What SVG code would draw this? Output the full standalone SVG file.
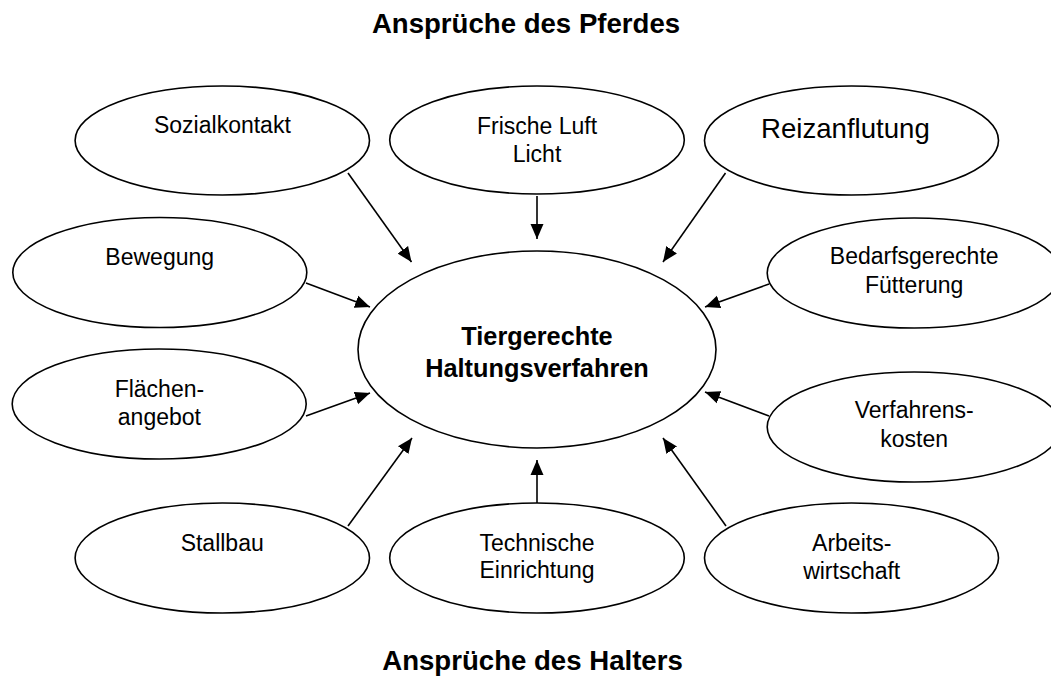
<svg xmlns="http://www.w3.org/2000/svg" width="1051" height="676" viewBox="0 0 1051 676">
<style>
.n ellipse{fill:#fff;stroke:#000;stroke-width:1.6}
text{font-family:"Liberation Sans",Arial,sans-serif;fill:#000;text-anchor:middle}
.t{font-size:23px}
.b{font-size:25.3px;font-weight:bold}
.h{font-size:27.6px;font-weight:bold}
.r{font-size:27.6px}
#edges line{stroke:#000;stroke-width:1.6;marker-end:url(#ah)}
</style>
<defs>
<marker id="ah" markerUnits="userSpaceOnUse" markerWidth="16" markerHeight="14" refX="15" refY="6.5" orient="auto" viewBox="0 0 16 13">
<path d="M0,0 L15,6.5 L0,13 Z" fill="#000"/>
</marker>
</defs>
<rect width="1051" height="676" fill="#fff"/>
<text class="h" x="526" y="33">Ansprüche des Pferdes</text>
<text class="h" x="532.5" y="670">Ansprüche des Halters</text>
<g id="edges">
<line x1="348" y1="173" x2="411.5" y2="262"/>
<line x1="537" y1="196" x2="537" y2="239"/>
<line x1="725.5" y1="173" x2="663" y2="262"/>
<line x1="306" y1="283" x2="370" y2="307"/>
<line x1="769" y1="284" x2="705" y2="307"/>
<line x1="306" y1="416" x2="370" y2="393"/>
<line x1="769" y1="416" x2="705" y2="392"/>
<line x1="348" y1="526" x2="412" y2="438"/>
<line x1="537" y1="503" x2="537" y2="460"/>
<line x1="726" y1="526" x2="663" y2="438"/>
</g>
<g id="center" class="n">
<ellipse cx="537" cy="349.5" rx="179" ry="98.5"/>
<text class="b" x="537" y="345">Tiergerechte</text>
<text class="b" x="537" y="377">Haltungsverfahren</text>
</g>
<g id="sozialkontakt" class="n">
<ellipse cx="222.3" cy="140.5" rx="147.2" ry="54.5"/>
<text class="t" x="222.4" y="133">Sozialkontakt</text>
</g>
<g id="frischeluft" class="n">
<ellipse cx="537" cy="140" rx="147.3" ry="54"/>
<text class="t" x="537" y="134">Frische Luft</text>
<text class="t" x="537" y="162">Licht</text>
</g>
<g id="reizanflutung" class="n">
<ellipse cx="851.5" cy="140.5" rx="147" ry="54.5"/>
<text class="r" x="845.4" y="138">Reizanflutung</text>
</g>
<g id="bewegung" class="n">
<ellipse cx="159.8" cy="272.5" rx="147" ry="55"/>
<text class="t" x="159.7" y="265">Bewegung</text>
</g>
<g id="bedarf" class="n">
<ellipse cx="914.2" cy="273" rx="147" ry="55"/>
<text class="t" x="914.2" y="264">Bedarfsgerechte</text>
<text class="t" x="914.2" y="293">Fütterung</text>
</g>
<g id="flaechen" class="n">
<ellipse cx="159.2" cy="404" rx="147" ry="55"/>
<text class="t" x="159.4" y="397">Flächen-</text>
<text class="t" x="159.4" y="425">angebot</text>
</g>
<g id="verfahrenskosten" class="n">
<ellipse cx="914.2" cy="427" rx="147" ry="55"/>
<text class="t" x="914.2" y="418">Verfahrens-</text>
<text class="t" x="914.2" y="447">kosten</text>
</g>
<g id="stallbau" class="n">
<ellipse cx="222.3" cy="558" rx="147.2" ry="55"/>
<text class="t" x="222.2" y="551">Stallbau</text>
</g>
<g id="technische" class="n">
<ellipse cx="537" cy="558" rx="147.3" ry="55"/>
<text class="t" x="537" y="551">Technische</text>
<text class="t" x="537" y="578">Einrichtung</text>
</g>
<g id="arbeitswirtschaft" class="n">
<ellipse cx="851.5" cy="558" rx="147" ry="55"/>
<text class="t" x="851.7" y="551">Arbeits-</text>
<text class="t" x="851.7" y="579">wirtschaft</text>
</g>
</svg>
